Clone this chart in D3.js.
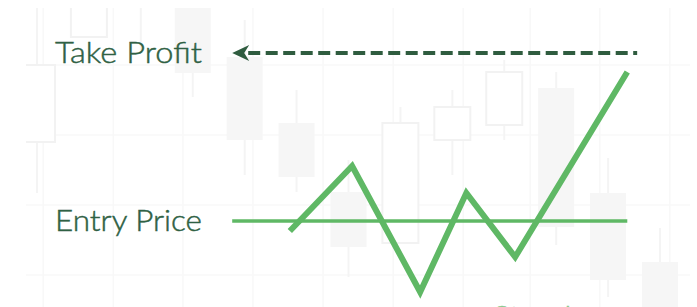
<!DOCTYPE html>
<html>
<head>
<meta charset="utf-8">
<script src="https://cdn.jsdelivr.net/npm/d3@7"></script>
<style>
  body { margin: 0; background: #ffffff; }
  svg { display: block; }
  .label { font-family: Lato, "Open Sans", sans-serif; font-weight: 300; fill: #2f6144; stroke: #2f6144; stroke-width: 0.45; }
</style>
</head>
<body>
<script>
// candles sit on integer time steps, price in arbitrary units
const candleT = [0, 1, 2, 3, 4, 5, 6, 7, 8, 9, 10, 11, 12];
const candleOpen = [165, 270, 330, 300, 250, 184, 115, 64, 167, 182, 219, 114, 45];
const candleClose = [242, 330, 310, 234, 167, 130, 60, 184, 200, 235, 80, 27, -5];
const candleHigh = [307, 340, 340, 320, 287, 217, 147, 200, 217, 247, 235, 149, 79];
const candleLow = [114, 270, 257, 210, 132, 115, 30, 64, 132, 167, 62, 10, -10];

const gridT = [0.12, 1.47, 2.81, 4.16, 5.51, 6.86, 8.21, 9.5, 10.84, 12.19];
const gridV = [32, 102, 172, 242];

const priceT = [4.87, 6.07, 7.38, 8.27, 9.21, 11.37];
const priceV = [76, 141, 15, 114, 50, 235];

const entryPrice = 86;
const entryT = [3.76, 11.37];
const takeProfit = 254;
const takeT = [3.76, 11.56];

const labels = ['Take Profit', 'Entry Price', 'Stop Loss'];
const labelV = [takeProfit, entryPrice, -10];

const width = 697, height = 307;
const plot = { left: 26, top: 8, right: 690, bottom: 307 };

const x = d3.scaleLinear().domain([0, 12]).range([37, 660]);
const y = d3.scaleLinear().domain([0, 300]).range([307, 7]);

const svg = d3.select('body').append('svg')
    .attr('width', width)
    .attr('height', height);

svg.append('defs').append('clipPath')
    .attr('id', 'bgclip')
    .append('rect')
    .attr('x', plot.left).attr('y', plot.top)
    .attr('width', plot.right - plot.left)
    .attr('height', plot.bottom - plot.top);

let bg = svg.append('g').attr('clip-path', 'url(#bgclip)');

// faint grid
bg.selectAll('line.vgrid')
    .data(gridT)
    .enter().append('line')
    .attr('x1', d => x(d)).attr('x2', d => x(d))
    .attr('y1', plot.top).attr('y2', plot.bottom)
    .attr('stroke', '#f8f8f8')
    .attr('stroke-width', 1.5);

bg.selectAll('line.hgrid')
    .data(gridV)
    .enter().append('line')
    .attr('x1', plot.left).attr('x2', plot.right)
    .attr('y1', d => y(d)).attr('y2', d => y(d))
    .attr('stroke', '#f8f8f8')
    .attr('stroke-width', 1.5);

// faint candles
let candles = candleT.map((t, i) => ({
    t: t, open: candleOpen[i], close: candleClose[i],
    high: candleHigh[i], low: candleLow[i]
}));
let bodyW = 36;

bg.selectAll('line.wick')
    .data(candles)
    .enter().append('line')
    .attr('x1', d => x(d.t)).attr('x2', d => x(d.t))
    .attr('y1', d => y(d.high)).attr('y2', d => y(d.low))
    .attr('stroke', '#f4f4f4')
    .attr('stroke-width', 2);

bg.selectAll('rect.body')
    .data(candles)
    .enter().append('rect')
    .attr('x', d => x(d.t) - bodyW / 2)
    .attr('y', d => y(Math.max(d.open, d.close)))
    .attr('width', bodyW)
    .attr('height', d => Math.abs(y(d.open) - y(d.close)))
    .attr('fill', d => d.close > d.open ? '#ffffff' : '#f6f6f6')
    .attr('stroke', d => d.close > d.open ? '#f2f2f2' : 'none')
    .attr('stroke-width', 2);

// take profit dashed arrow
let tpY = y(takeProfit);
svg.append('line')
    .attr('x1', x(takeT[0]) + 16).attr('x2', x(takeT[1]))
    .attr('y1', tpY).attr('y2', tpY)
    .attr('stroke', '#2f5c3f')
    .attr('stroke-width', 4)
    .attr('stroke-dasharray', '12,5.5');

let tip = x(takeT[0]);
svg.append('path')
    .attr('d', 'M' + tip + ',' + tpY +
        'L' + (tip + 17) + ',' + (tpY - 8) +
        'L' + (tip + 12) + ',' + tpY +
        'L' + (tip + 17) + ',' + (tpY + 8) + 'Z')
    .attr('fill', '#2f5c3f');

// entry price line
svg.append('line')
    .attr('x1', x(entryT[0])).attr('x2', x(entryT[1]))
    .attr('y1', y(entryPrice)).attr('y2', y(entryPrice))
    .attr('stroke', '#5fb865')
    .attr('stroke-width', 3.5);

// price path
let line = d3.line()
    .x(d => x(d.t))
    .y(d => y(d.v));

svg.append('path')
    .datum(priceT.map((t, i) => ({ t: t, v: priceV[i] })))
    .attr('fill', 'none')
    .attr('stroke', '#5fb865')
    .attr('stroke-width', 6)
    .attr('stroke-linejoin', 'miter')
    .attr('d', line);

// labels
let labelX = [55, 55, 493];
let labelLen = [147, 147, 130];
svg.selectAll('text.label')
    .data(labels)
    .enter().append('text')
    .attr('class', 'label')
    .attr('x', (d, i) => labelX[i])
    .attr('y', (d, i) => y(labelV[i]) + 10)
    .attr('font-size', 29)
    .attr('textLength', (d, i) => labelLen[i])
    .attr('lengthAdjust', 'spacingAndGlyphs')
    .style('fill', (d, i) => i === 2 ? '#8cc98f' : null)
    .style('stroke', (d, i) => i === 2 ? '#8cc98f' : null)
    .text(d => d);
</script>
</body>
</html>
